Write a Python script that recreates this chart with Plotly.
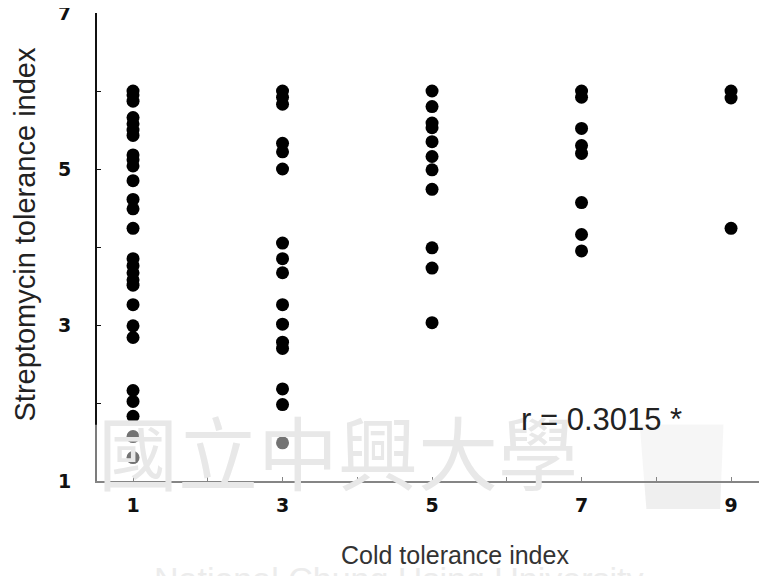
import plotly.graph_objects as go

# Cold tolerance index groups and streptomycin tolerance index values
cold_1 = [6.0, 5.95, 5.87, 5.66, 5.58, 5.50, 5.43, 5.18, 5.12, 5.04, 4.85, 4.61, 4.49, 4.24,
          3.85, 3.76, 3.67, 3.58, 3.51, 3.26, 2.99, 2.84, 2.16, 2.02, 1.83, 1.57, 1.30]
cold_3 = [6.0, 5.92, 5.83, 5.33, 5.22, 5.0, 4.05, 3.85, 3.67, 3.26, 3.01, 2.78, 2.70,
          2.18, 1.98, 1.49]
cold_5 = [6.0, 5.80, 5.59, 5.53, 5.35, 5.16, 4.99, 4.74, 3.99, 3.73, 3.03]
cold_7 = [6.0, 5.92, 5.52, 5.30, 5.20, 4.57, 4.16, 3.95]
cold_9 = [6.0, 5.91, 4.24]

groups = {1: cold_1, 3: cold_3, 5: cold_5, 7: cold_7, 9: cold_9}

x_ticks = [1, 2, 3, 4, 5, 6, 7, 8, 9]
x_ticktext = ["1", "", "3", "", "5", "", "7", "", "9"]
y_ticks = [1, 2, 3, 4, 5, 6, 7]
y_ticktext = ["1", "", "3", "", "5", "", "7"]

xs, ys = [], []
for k, vals in groups.items():
    xs += [k] * len(vals)
    ys += vals

fig = go.Figure()
fig.add_trace(go.Scatter(x=xs, y=ys, mode="markers",
                         marker=dict(size=13, color="black"),
                         showlegend=False, hoverinfo="skip"))

tickfont = dict(family="DejaVu Sans", size=19, color="#111", weight="bold")
fig.update_layout(
    width=759, height=568,
    margin=dict(l=89, r=0, t=5, b=95),
    paper_bgcolor="white", plot_bgcolor="white",
    xaxis=dict(range=[0.518, 9.481], tickvals=x_ticks, ticktext=x_ticktext,
               showgrid=False, zeroline=False, showline=True, linecolor="#222",
               linewidth=2, ticks="inside", ticklen=4, tickcolor="#222",
               tickfont=tickfont, ticklabelstandoff=6, automargin=False,
               ticklabeloverflow="allow"),
    yaxis=dict(range=[1, 7], tickvals=y_ticks, ticktext=y_ticktext,
               showgrid=False, zeroline=False, showline=True, linecolor="#111",
               linewidth=2, ticks="inside", ticklen=4, tickcolor="#111",
               tickfont=tickfont, ticklabelstandoff=20, automargin=False,
               ticklabeloverflow="allow"),
    font=dict(family="Liberation Sans"),
)

# scanned watermark (drawn first so the real texts lie above it)
fig.add_annotation(text="國立中興大學", xref="paper", yref="paper", x=0.36, y=-0.06,
                   showarrow=False,
                   font=dict(family="Noto Sans CJK TC", size=80, color="#e8e8e8"))
fig.add_annotation(text="National Chung Hsing University", xref="paper", yref="paper",
                   x=0.45, y=-0.255, showarrow=False,
                   font=dict(family="Liberation Sans", size=34, color="#ececec"))

# axis titles and correlation note
fig.add_annotation(text="Streptomycin tolerance index", xref="paper", yref="paper",
                   x=-0.108, y=0.526, xanchor="center", yanchor="middle",
                   textangle=-90, showarrow=False,
                   font=dict(family="Liberation Sans", size=29, color="#222"))
fig.add_annotation(text="Cold tolerance index", xref="paper", yref="paper",
                   x=0.534, y=-0.158, xanchor="center", yanchor="middle",
                   showarrow=False,
                   font=dict(family="Liberation Sans", size=25, color="#333"))
fig.add_annotation(text="r = 0.3015 *", xref="x", yref="y", x=7.27, y=1.79,
                   xanchor="center", yanchor="middle", showarrow=False,
                   font=dict(family="Liberation Sans", size=31, color="#222"))

# scanned watermark band lightening the bottom of the plot
fig.add_shape(type="rect", xref="paper", yref="paper", x0=-0.02, x1=1.0,
              y0=-0.006, y1=0.12, layer="above", line_width=0,
              fillcolor="rgba(255,255,255,0.45)")
fig.add_shape(type="path", xref="paper", yref="paper",
              path="M 0.81 0.12 L 0.935 0.12 L 0.93 -0.06 L 0.82 -0.06 Z",
              fillcolor="rgba(215,215,215,0.4)", line_width=0, layer="below")

fig.write_html("out.html")
